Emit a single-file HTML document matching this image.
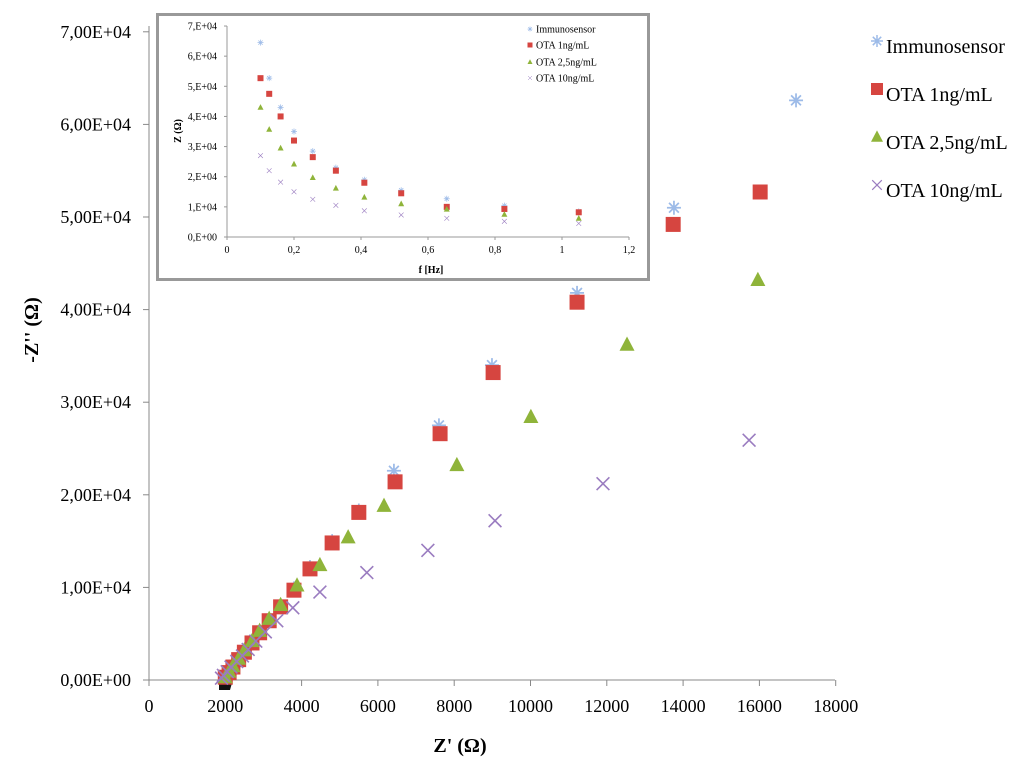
<!DOCTYPE html>
<html><head><meta charset="utf-8"><style>
html,body{margin:0;padding:0;background:#fff;}
svg{display:block;font-family:"Liberation Serif",serif;}
</style></head><body>
<svg id="c" width="1024" height="764" viewBox="0 0 1024 764">
<g id="main"></g><g id="inset"></g><g id="legend"></g>
</svg>
<script>
// Main chart data (Z' in ohm, -Z'' in ohm)
const xTicks=[0,2000,4000,6000,8000,10000,12000,14000,16000,18000];
const yTicks=[0,10000,20000,30000,40000,50000,60000,70000];
const yTickLabels=["0,00E+00","1,00E+04","2,00E+04","3,00E+04","4,00E+04","5,00E+04","6,00E+04","7,00E+04"];
const seriesNames=["Immunosensor","OTA 1ng/mL","OTA 2,5ng/mL","OTA 10ng/mL"];
const immX=[16960,13760,11220,8990,7600,6420,5500,4800,4220,3800,3450,3150,2900,2700,2500,2350,2200,2100,2000];
const immY=[62600,51000,41800,34000,27500,22600,18300,15000,12200,9900,8000,6500,5200,4100,3100,2300,1500,900,300];
const ota1X=[16020,13740,11220,9020,7630,6450,5500,4800,4220,3800,3450,3150,2900,2700,2500,2350,2200,2100,2000];
const ota1Y=[52700,49200,40800,33200,26600,21400,18100,14800,12000,9700,7900,6400,5100,4000,3000,2200,1400,800,300];
const ota2X=[15960,12530,10010,8070,6160,5220,4480,3880,3450,3150,2900,2700,2500,2350,2200,2100,2000];
const ota2Y=[43200,36200,28400,23200,18800,15400,12400,10200,8100,6600,5300,4200,3200,2300,1500,900,300];
const ota10X=[15730,11900,9070,7310,5710,4480,3770,3350,3050,2800,2600,2450,2300,2150,2050,1950,1900];
const ota10Y=[25900,21200,17200,14000,11600,9500,7800,6400,5200,4200,3300,2600,2000,1400,900,500,200];
// Inset data (f in Hz, Z in ohm)
const fVals=[0.1,0.126,0.16,0.2,0.256,0.325,0.41,0.52,0.656,0.828,1.05];
const inImm=[64500,52700,43000,35000,28500,23000,19000,15500,12700,10400,8500];
const inOta1=[52700,47500,40000,32000,26500,22000,18000,14500,10000,9300,8200];
const inOta2=[43000,35700,29500,24200,19700,16200,13200,11000,9200,7500,6200];
const inOta10=[27000,22000,18200,15000,12500,10500,8700,7300,6200,5200,4500];
const inXTicks=[0,0.2,0.4,0.6,0.8,1,1.2];
const inXLabels=["0","0,2","0,4","0,6","0,8","1","1,2"];
const inYLabels=["0,E+00","1,E+04","2,E+04","3,E+04","4,E+04","5,E+04","6,E+04","7,E+04"];

const NS="http://www.w3.org/2000/svg";
function mk(p,t,a,txt){const e=document.createElementNS(NS,t);for(const k in a)e.setAttribute(k,a[k]);if(txt!==undefined)e.textContent=txt;p.appendChild(e);return e;}
const colors=["#9dbbe8","#d64540","#8fb43a","#9a7cc0"];
function marker(g,type,cx,cy,s){
  let e;
  if(type===0){e=mk(g,"path",{d:`M${cx-s} ${cy}H${cx+s}M${cx} ${cy-s}V${cy+s}M${cx-s*0.7} ${cy-s*0.7}L${cx+s*0.7} ${cy+s*0.7}M${cx-s*0.7} ${cy+s*0.7}L${cx+s*0.7} ${cy-s*0.7}`,stroke:colors[0],"stroke-width":s/4,fill:"none"});}
  else if(type===1){e=mk(g,"rect",{x:cx-s,y:cy-s,width:2*s,height:2*s,fill:colors[1]});}
  else if(type===2){e=mk(g,"path",{d:`M${cx} ${cy-s*1.1}L${cx+s} ${cy+s*0.8}L${cx-s} ${cy+s*0.8}Z`,fill:colors[2]});}
  else {e=mk(g,"path",{d:`M${cx-s*0.8} ${cy-s*0.8}L${cx+s*0.8} ${cy+s*0.8}M${cx-s*0.8} ${cy+s*0.8}L${cx+s*0.8} ${cy-s*0.8}`,stroke:colors[3],"stroke-width":s/5,fill:"none"});}
  return e;
}
// main axes
const X=v=>149+v*0.03815, Y=v=>680-v*0.00926;
const gm=document.getElementById("main");
mk(gm,"line",{x1:149,y1:680,x2:835,y2:680,stroke:"#888","stroke-width":1});
mk(gm,"line",{x1:149,y1:26,x2:149,y2:680,stroke:"#888","stroke-width":1});
xTicks.forEach(v=>{mk(gm,"line",{x1:X(v),y1:680,x2:X(v),y2:686,stroke:"#888"});
 const t=mk(gm,"text",{x:X(v),y:712,"text-anchor":"middle","font-size":18},String(v));
 
 });
yTicks.forEach((v,i)=>{mk(gm,"line",{x1:143,y1:Y(v),x2:149,y2:Y(v),stroke:"#888"});
 const t=mk(gm,"text",{x:131,y:Y(v)+6,"text-anchor":"end","font-size":18},yTickLabels[i]);
 
 });
const xt=mk(gm,"text",{x:460,y:752,"text-anchor":"middle","font-size":20,"font-weight":"bold"},"Z' (Ω)");

const yt=mk(gm,"text",{x:0,y:0,"text-anchor":"middle","font-size":20,"font-weight":"bold",transform:"translate(38,330) rotate(-90)"},"-Z'' (Ω)");

// black blob near origin
mk(gm,"path",{d:"M219 683 L232 683 L230 690 L219 690 Z",fill:"#111"});
const mainSeries=[[immX,immY],[ota1X,ota1Y],[ota2X,ota2Y],[ota10X,ota10Y]];
const drawOrder=[0,1,2,3];
drawOrder.forEach(si=>{const g=mk(gm,"g",{});
 
 const [xs,ys]=mainSeries[si];
 xs.forEach((x,i)=>{const m=marker(g,si,X(x),Y(ys[i]),si===0?7:(si===3?8:7.5));
  });});
// legend
const gl=document.getElementById("legend");
[50,98,146,194].forEach((yy,i)=>{const g=mk(gl,"g",{});
 
 marker(g,i,877,yy-9,i===0?6:6);
 mk(g,"text",{x:886,y:yy+3,"font-size":20},seriesNames[i]);});
// inset
const gi=document.getElementById("inset");
const fr=mk(gi,"rect",{x:157.5,y:14.5,width:491,height:265,fill:"#fff",stroke:"#999","stroke-width":3});

const IX=v=>227+v*335, IY=v=>237-v*0.003014;
mk(gi,"line",{x1:227,y1:237,x2:629,y2:237,stroke:"#999"});
mk(gi,"line",{x1:227,y1:26,x2:227,y2:237,stroke:"#999"});
inXTicks.forEach((v,i)=>{mk(gi,"line",{x1:IX(v),y1:237,x2:IX(v),y2:240,stroke:"#999"});
 const t=mk(gi,"text",{x:IX(v),y:253,"text-anchor":"middle","font-size":10},inXLabels[i]);
 });
yTicks.forEach((v,i)=>{mk(gi,"line",{x1:224,y1:IY(v),x2:227,y2:IY(v),stroke:"#999"});
 const t=mk(gi,"text",{x:217,y:IY(v)+3.5,"text-anchor":"end","font-size":10},inYLabels[i]);
 });
mk(gi,"text",{x:431,y:273,"text-anchor":"middle","font-size":10,"font-weight":"bold"},"f [Hz]");
mk(gi,"text",{x:0,y:0,"text-anchor":"middle","font-size":10,"font-weight":"bold",transform:"translate(181,131) rotate(-90)"},"Z (Ω)");
const inSeries=[inImm,inOta1,inOta2,inOta10];
inSeries.forEach((ys,si)=>{const g=mk(gi,"g",{});
 
 fVals.forEach((f,i)=>{const m=marker(g,si,IX(f),IY(ys[i]),si===1?3:3);
  });});
[29,45,62,78].forEach((yy,i)=>{const g=mk(gi,"g",{});
 
 marker(g,i,530,yy,2.5);
 mk(g,"text",{x:536,y:yy+3.5,"font-size":10},seriesNames[i]);});
</script>
</body></html>
